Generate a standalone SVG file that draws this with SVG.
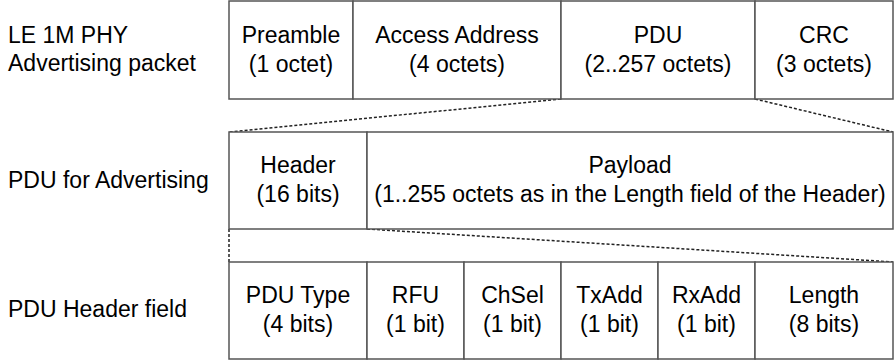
<svg xmlns="http://www.w3.org/2000/svg" width="894" height="360" viewBox="0 0 894 360">
<style>
text{font-family:"Liberation Sans",Arial,sans-serif;font-size:23px;fill:#000}
.c{text-anchor:middle}
.box{fill:#fff;stroke:#555;stroke-width:1.5}
.dash{fill:none;stroke:#222;stroke-width:1.5;stroke-dasharray:3 2}
</style>
<rect width="894" height="360" fill="#fff"/>
<g id="labels">
<text x="8" y="43">LE 1M PHY</text>
<text x="8" y="71">Advertising packet</text>
<text x="8" y="188">PDU for Advertising</text>
<text x="8" y="317">PDU Header field</text>
</g>
<g id="connectors">
<line class="dash" x1="561" y1="99" x2="229" y2="132"/>
<line class="dash" x1="755" y1="99" x2="893" y2="132"/>
<line class="dash" x1="229" y1="229" x2="229" y2="262"/>
<line class="dash" x1="367" y1="229" x2="893" y2="262"/>
</g>
<g id="preamble"><rect class="box" x="229" y="1" width="124" height="98"/><text class="c" x="291" y="43">Preamble</text><text class="c" x="291" y="72">(1 octet)</text></g>
<g id="access"><rect class="box" x="353" y="1" width="208" height="98"/><text class="c" x="457" y="43">Access Address</text><text class="c" x="457" y="72">(4 octets)</text></g>
<g id="pdu"><rect class="box" x="561" y="1" width="194" height="98"/><text class="c" x="658" y="43">PDU</text><text class="c" x="658" y="72">(2..257 octets)</text></g>
<g id="crc"><rect class="box" x="755" y="1" width="138" height="98"/><text class="c" x="824" y="43">CRC</text><text class="c" x="824" y="72">(3 octets)</text></g>
<g id="header"><rect class="box" x="229" y="132" width="138" height="97"/><text class="c" x="298" y="173">Header</text><text class="c" x="298" y="202">(16 bits)</text></g>
<g id="payload"><rect class="box" x="367" y="132" width="526" height="97"/><text class="c" x="630" y="173">Payload</text><text class="c" x="630" y="202">(1..255 octets as in the Length field of the Header)</text></g>
<g id="pdutype"><rect class="box" x="229" y="262" width="138" height="97"/><text class="c" x="298" y="303">PDU Type</text><text class="c" x="298" y="332">(4 bits)</text></g>
<g id="rfu"><rect class="box" x="367" y="262" width="97" height="97"/><text class="c" x="415.5" y="303">RFU</text><text class="c" x="415.5" y="332">(1 bit)</text></g>
<g id="chsel"><rect class="box" x="464" y="262" width="97" height="97"/><text class="c" x="512.5" y="303">ChSel</text><text class="c" x="512.5" y="332">(1 bit)</text></g>
<g id="txadd"><rect class="box" x="561" y="262" width="97" height="97"/><text class="c" x="609.5" y="303">TxAdd</text><text class="c" x="609.5" y="332">(1 bit)</text></g>
<g id="rxadd"><rect class="box" x="658" y="262" width="97" height="97"/><text class="c" x="706.5" y="303">RxAdd</text><text class="c" x="706.5" y="332">(1 bit)</text></g>
<g id="length"><rect class="box" x="755" y="262" width="138" height="97"/><text class="c" x="824" y="303">Length</text><text class="c" x="824" y="332">(8 bits)</text></g>
</svg>
